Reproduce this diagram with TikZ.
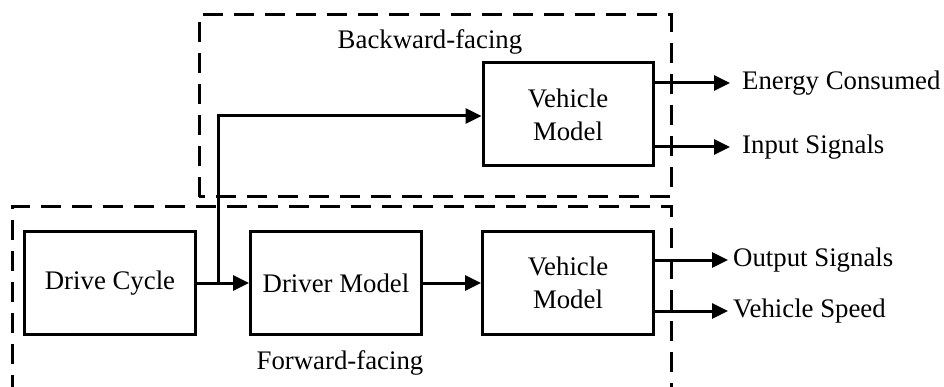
\documentclass[tikz,border=0pt]{standalone}
\usepackage{fontspec}
\setmainfont{Liberation Serif}
\usetikzlibrary{arrows.meta,calc}
\begin{document}
\begin{tikzpicture}[x=1pt,y=-1pt,
  block/.style={draw,line width=3pt,rectangle,inner sep=0pt,
    minimum width=171pt,minimum height=102pt,align=center,
    font=\fontsize{26.8}{33}\selectfont},
  label/.style={inner sep=0pt,font=\fontsize{26.8}{33}\selectfont},
  region/.style={draw,line width=3pt,dash pattern=on 20pt off 11pt},
  flow/.style={line width=3pt,-{Triangle[length=16pt,width=15pt]}},
  wire/.style={line width=3pt}]
\useasboundingbox (0,0) rectangle (944,387);

% dashed regions
\draw[region] (199,197) rectangle (671,15);
\draw[region] (12,395) -- (12,207) -- (671,207) -- (671,395);

% blocks
\node[block] (cycle)  at (110,283) {Drive Cycle};
\node[block] (driver) at (336,283) {Driver Model};
\node[block] (vfwd)   at (568,283) {Vehicle\\Model};
\node[block,minimum height=103pt,minimum width=170pt] (vbwd) at (568,114.5) {Vehicle\\Model};

% region titles
\node[label] (btitle) at (430,42) {Backward-facing};
\node[label] (ftitle) at (340,363) {Forward-facing};

% forward chain
\coordinate (split) at (218,283);
\draw[flow] (cycle.east) -- (driver.west);
\draw[flow] (driver.east) -- (vfwd.west);
\coordinate (bin) at (vbwd.west |- 0,116);
\draw[flow] (split) -- (218,116) -- (bin);

% outputs of backward model
\coordinate (e0) at (vbwd.east |- 0,83);
\coordinate (e1) at (730,83);
\coordinate (i0) at (vbwd.east |- 0,147);
\coordinate (i1) at (730,147);
\draw[flow] (e0) -- (e1);
\draw[flow] (i0) -- (i1);
\node[label,anchor=west] (energy) at (742,83) {Energy Consumed};
\node[label,anchor=west] (insig)  at (742,147) {Input Signals};

% outputs of forward model
\coordinate (o0) at (vfwd.east |- 0,260);
\coordinate (o1) at (728,260);
\coordinate (s0) at (vfwd.east |- 0,311);
\coordinate (s1) at (728,311);
\draw[flow] (o0) -- (o1);
\draw[flow] (s0) -- (s1);
\node[label,anchor=west] (outsig) at (733,260) {Output Signals};
\node[label,anchor=west] (speed)  at (733,311) {Vehicle Speed};
\end{tikzpicture}
\end{document}
